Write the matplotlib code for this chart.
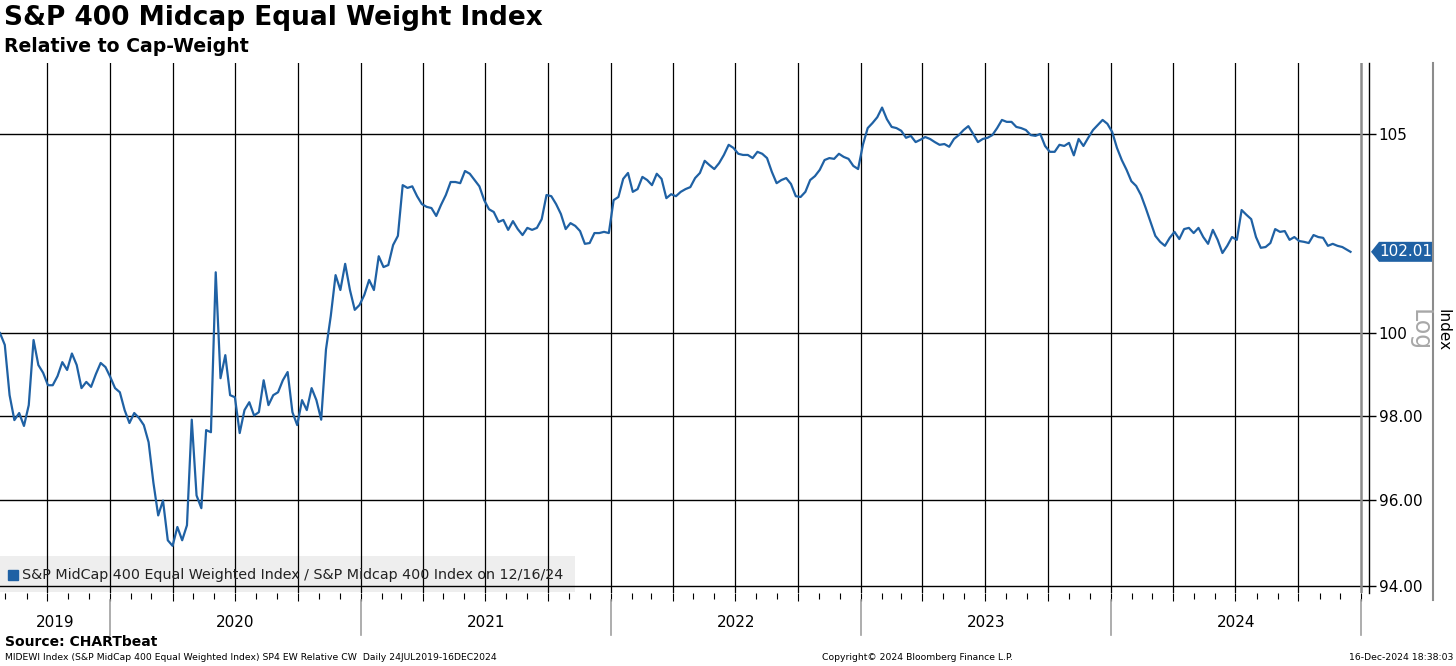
import pandas as pd
import matplotlib
matplotlib.use("Agg")
import matplotlib.pyplot as plt
import matplotlib.dates as mdates
from matplotlib.ticker import FixedLocator, FixedFormatter, NullLocator
from matplotlib.patches import Rectangle, Polygon
from matplotlib.lines import Line2D
from matplotlib.transforms import IdentityTransform, blended_transform_factory

# weekly readings of the EW / CW ratio, first one on 24 Jul 2019
ratio_weekly = [
    100.00, 99.71, 98.49, 97.89, 98.06, 97.75, 98.25, 99.83, 99.22, 99.03,
    98.73, 98.73, 98.95, 99.29, 99.10, 99.50, 99.22, 98.66, 98.81, 98.69,
    99.00, 99.27, 99.17, 98.93, 98.66, 98.56, 98.13, 97.82, 98.06, 97.94,
    97.77, 97.36, 96.40, 95.63, 95.98, 95.05, 94.92, 95.36, 95.05, 95.40,
    97.90, 96.10, 95.80, 97.65, 97.60, 101.50, 98.90, 99.46, 98.49, 98.44,
    97.58, 98.13, 98.32, 98.00, 98.08, 98.85, 98.25, 98.49, 98.56, 98.85,
    99.05, 98.08, 97.77, 98.37, 98.13, 98.66, 98.37, 97.90, 99.60, 100.42,
    101.43, 101.06, 101.71, 101.06, 100.57, 100.69, 100.94, 101.31, 101.06, 101.90,
    101.63, 101.68, 102.18, 102.41, 103.69, 103.62, 103.66, 103.41, 103.21, 103.14,
    103.11, 102.91, 103.19, 103.44, 103.77, 103.77, 103.74, 104.05, 103.98, 103.82,
    103.66, 103.31, 103.08, 103.01, 102.76, 102.81, 102.56, 102.78, 102.58, 102.43,
    102.61, 102.56, 102.61, 102.83, 103.44, 103.41, 103.21, 102.96, 102.58, 102.73,
    102.66, 102.53, 102.21, 102.23, 102.48, 102.48, 102.51, 102.48, 103.31, 103.39,
    103.85, 104.00, 103.52, 103.59, 103.90, 103.82, 103.69, 103.98, 103.85, 103.36,
    103.46, 103.41, 103.52, 103.59, 103.64, 103.87, 104.00, 104.31, 104.20, 104.10,
    104.25, 104.46, 104.72, 104.64, 104.49, 104.46, 104.46, 104.38, 104.54, 104.49,
    104.38, 104.03, 103.74, 103.82, 103.87, 103.72, 103.41, 103.39, 103.52, 103.82,
    103.92, 104.08, 104.33, 104.38, 104.36, 104.49, 104.41, 104.36, 104.18, 104.10,
    104.72, 105.15, 105.28, 105.43, 105.68, 105.38, 105.18, 105.15, 105.08, 104.90,
    104.95, 104.79, 104.85, 104.92, 104.87, 104.79, 104.72, 104.74, 104.67, 104.87,
    104.97, 105.10, 105.20, 105.00, 104.79, 104.87, 104.90, 104.97, 105.15, 105.36,
    105.31, 105.31, 105.18, 105.15, 105.10, 104.97, 104.95, 105.00, 104.69, 104.54,
    104.54, 104.72, 104.69, 104.77, 104.45, 104.87, 104.69, 104.90, 105.10, 105.23,
    105.36, 105.26, 105.05, 104.64, 104.33, 104.08, 103.79, 103.67, 103.44, 103.11,
    102.76, 102.41, 102.26, 102.16, 102.36, 102.51, 102.33, 102.58, 102.61, 102.48,
    102.61, 102.38, 102.21, 102.56, 102.31, 101.98, 102.16, 102.38, 102.31, 103.06,
    102.94, 102.83, 102.38, 102.11, 102.13, 102.23, 102.58, 102.51, 102.53, 102.31,
    102.38, 102.28, 102.26, 102.23, 102.43, 102.38, 102.36, 102.16, 102.21, 102.16,
    102.13, 102.06,
]
start_date = "2019-07-24"
last_date = "2024-12-16"
last_value = 102.01

ytick_vals = [94, 96, 98, 100, 105]
ytick_labels = ["94.00", "96.00", "98.00", "100", "105"]
years = [2019, 2020, 2021, 2022, 2023, 2024]

legend_text = "S&P MidCap 400 Equal Weighted Index / S&P Midcap 400 Index on 12/16/24"
blue = "#1f61a4"

dates = list(pd.date_range(start_date, periods=len(ratio_weekly), freq="7D")) + [pd.Timestamp(last_date)]
values = ratio_weekly + [last_value]

W, H = 1456, 666
fig = plt.figure(figsize=(W / 100, H / 100), dpi=100)
ax = fig.add_axes([0, (H - 593) / H, 1369 / W, 530 / H])

ax.set_yscale("log")
ax.set_ylim(93.83, 106.84)
x_start = pd.Timestamp(start_date)
x_end = pd.Timestamp("2025-01-12")
ax.set_xlim(x_start, x_end)

# grid
for v in ytick_vals:
    ax.axhline(v, color="black", lw=1.0, zorder=1)
for q in pd.date_range("2019-10-01", "2025-01-01", freq="QS"):
    if q.year == 2025:
        ax.axvline(q, color="#8c8c8c", lw=1.8, zorder=1)
    else:
        ax.axvline(q, color="black", lw=0.9, zorder=1)

ax.plot(dates, values, color=blue, lw=1.6, zorder=2)

for s in ["left", "top", "bottom"]:
    ax.spines[s].set_visible(False)
ax.spines["right"].set_color("black")
ax.spines["right"].set_linewidth(1.0)

ax.yaxis.tick_right()
ax.yaxis.set_major_locator(FixedLocator(ytick_vals))
ax.yaxis.set_major_formatter(FixedFormatter(ytick_labels))
ax.yaxis.set_minor_locator(NullLocator())
ax.tick_params(axis="y", which="major", direction="out", length=5, width=1, labelsize=11, pad=2)

ax.xaxis.set_major_locator(mdates.MonthLocator(bymonth=[1, 4, 7, 10]))
ax.xaxis.set_minor_locator(mdates.MonthLocator())
ax.tick_params(axis="x", which="major", direction="out", length=6, width=0.8, labelbottom=False)
ax.tick_params(axis="x", which="minor", direction="out", length=4, width=0.8)

# year labels below the axis
trans = blended_transform_factory(ax.transData, ax.transAxes)
for yr in years:
    a = max(pd.Timestamp(f"{yr}-01-01"), x_start)
    b = pd.Timestamp(f"{yr + 1}-01-01")
    ax.text(a + (b - a) / 2, -0.055, str(yr), transform=trans, ha="center", va="center", fontsize=11)
for yr in years[1:] + [2025]:
    d = pd.Timestamp(f"{yr}-01-01")
    ax.plot([d, d], [-0.013, -0.079], transform=trans, color="#a0a0a0", lw=1.2, clip_on=False)

# legend box
ax.add_patch(Rectangle((0, 0.002), 0.42, 0.068, transform=ax.transAxes,
                       facecolor="#eeeeee", edgecolor="none", zorder=0.5))
ax.plot([0.0095], [0.034], marker="s", ms=7, color=blue, transform=ax.transAxes, zorder=3)
ax.text(0.016, 0.034, legend_text, transform=ax.transAxes, ha="left", va="center",
        fontsize=10.3, color="#222222", zorder=3)

# last value tag
x0 = ax.transAxes.transform((1, 0))[0]
y0 = ax.transData.transform((mdates.date2num(pd.Timestamp(last_date)), last_value))[1]
tag = [(x0 + 2, y0), (x0 + 10, y0 + 10), (x0 + 64, y0 + 10), (x0 + 64, y0 - 10), (x0 + 10, y0 - 10)]
fig.add_artist(Polygon(tag, closed=True, transform=IdentityTransform(), facecolor=blue, edgecolor="none"))
fig.text(x0 + 37, y0, f"{last_value:.2f}", transform=IdentityTransform(), color="white",
         fontsize=11, ha="center", va="center")

# right panel border and labels
fig.add_artist(Line2D([1433 / W, 1433 / W], [(H - 600) / H, (H - 63) / H], color="#8c8c8c", lw=1.5))
fig.text(1420 / W, 1 - 330 / H, "Log", rotation=270, color="#a8a8a8", fontsize=17, ha="center", va="center")
fig.text(1443 / W, 1 - 330 / H, "Index", rotation=270, color="black", fontsize=11, ha="center", va="center")

# titles
fig.text(4 / W, 1 - 18 / H, "S&P 400 Midcap Equal Weight Index", fontsize=19, weight="bold", va="center")
fig.text(4 / W, 1 - 46 / H, "Relative to Cap-Weight", fontsize=13.6, weight="bold", va="center")

# footer
fig.text(5 / W, 1 - 642 / H, "Source: CHARTbeat", fontsize=10, weight="bold", va="center")
fig.text(5 / W, 1 - 658 / H,
         "MIDEWI Index (S&P MidCap 400 Equal Weighted Index) SP4 EW Relative CW  Daily 24JUL2019-16DEC2024",
         fontsize=6.7, va="center")
fig.text(917 / W, 1 - 658 / H, "Copyright\u00a9 2024 Bloomberg Finance L.P.", fontsize=6.7, ha="center", va="center")
fig.text(1453 / W, 1 - 658 / H, "16-Dec-2024 18:38:03", fontsize=6.7, ha="right", va="center")

fig.savefig("out.png", dpi=100)
